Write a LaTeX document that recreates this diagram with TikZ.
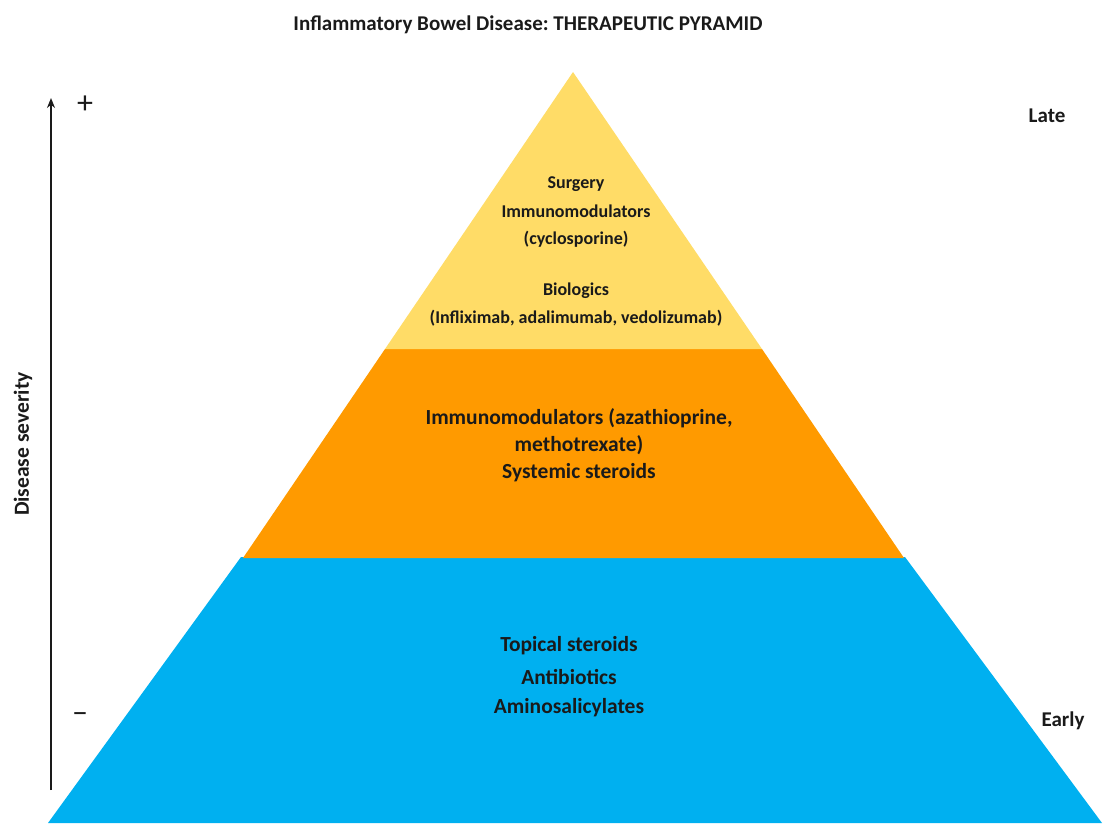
\documentclass[tikz,border=0pt]{standalone}
\usepackage{fontspec}
\setmainfont{Carlito}
\usetikzlibrary{arrows.meta}
\frenchspacing
\definecolor{pyyellow}{HTML}{FFDC67}
\definecolor{pyorange}{HTML}{FF9A00}
\definecolor{pyblue}{HTML}{00B0F0}
\definecolor{txt}{HTML}{1A1A1A}
\tikzset{
  lbl/.style={text=txt, inner sep=0pt, align=center, font=\bfseries\fontsize{#1}{27}\selectfont},
  lbl/.default=18,
  sign/.style={text=txt, inner sep=0pt, font=\fontsize{32}{32}\selectfont},
}
\begin{document}
\begin{tikzpicture}[x=1pt,y=-1pt]
\useasboundingbox (0,0) rectangle (1105,823);
% pyramid layers
\coordinate (apex) at (573,72);
\coordinate (yl) at (385,349);
\coordinate (yr) at (762,349);
\coordinate (ol) at (243,558);
\coordinate (or) at (904,558);
\coordinate (bl) at (48,823);
\coordinate (br) at (1102,823);
\fill[pyblue] (241,557) -- (905,557) -- (br) -- (bl) -- cycle;
\fill[pyorange] (yl) -- (yr) -- (or) -- (ol) -- cycle;
\fill[pyyellow] (apex) -- (yr) -- (yl) -- cycle;
% title
\node[lbl=21] (title) at (528,25) {Inflammatory Bowel Disease: THERAPEUTIC PYRAMID};
% yellow text
\node[lbl] (y1) at (576,184) {Surgery};
\node[lbl] (y2) at (576,211) {Immunomodulators};
\node[lbl] (y3) at (576,239) {(cyclosporine)};
\node[lbl] (y4) at (576,291) {Biologics};
\node[lbl] (y5) at (576,318) {(Infliximab, adalimumab, vedolizumab)};
% orange text
\node[lbl=21.5] (o1) at (579,418) {Immunomodulators (azathioprine,};
\node[lbl=21.5] (o2) at (579,445) {methotrexate)};
\node[lbl=21.5] (o3) at (579,473) {Systemic steroids};
% blue text
\node[lbl=21.5] (b1) at (569,646) {Topical steroids};
\node[lbl=21.5] (b2) at (569,677) {Antibiotics};
\node[lbl=21.5] (b3) at (569,708) {Aminosalicylates};
% side labels
\node[lbl=21] (late) at (1047,116) {Late};
\node[lbl=21] (early) at (1063,721) {Early};
\node[sign] (plus) at (85,105) {+};
\node[sign] (minus) at (80,718) {–};
% axis
\coordinate (axb) at (51,790);
\coordinate (axt) at (51,98);
\draw[line width=1.6pt, draw=txt, -{Stealth[length=10pt,width=8pt]}] (axb) -- (axt);
\node[lbl=21.5, rotate=90] (sev) at (23,444) {Disease severity};
\end{tikzpicture}
\end{document}
